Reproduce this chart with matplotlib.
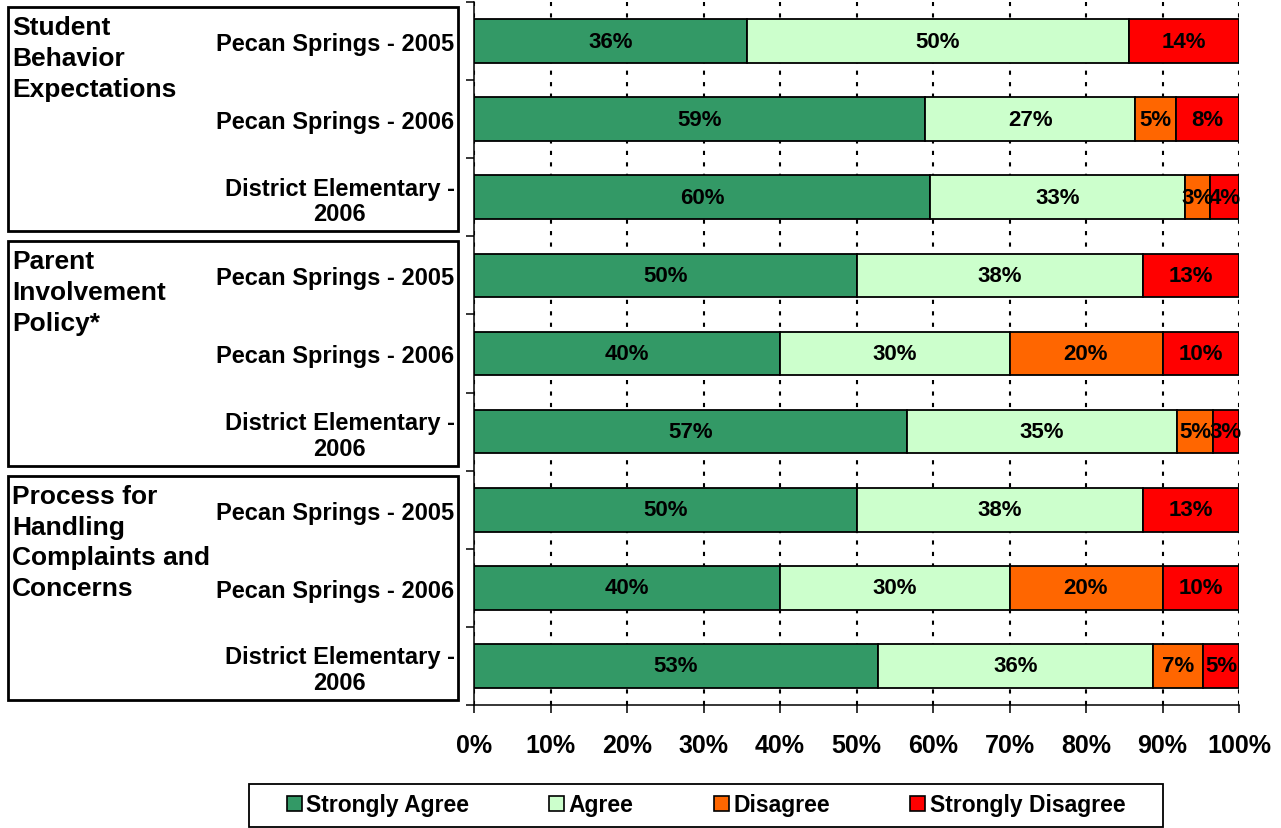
import matplotlib
matplotlib.use("Agg")
import matplotlib.pyplot as plt
from matplotlib.patches import Rectangle, Patch
import numpy as np

# ---------------- data ----------------
groups = ["Student\nBehavior\nExpectations",
          "Parent\nInvolvement\nPolicy*",
          "Process for\nHandling\nComplaints and\nConcerns"]
schools = ["Pecan Springs - 2005", "Pecan Springs - 2006", "District Elementary -\n2006"]
row_labels = schools * 3

series_names = ["Strongly Agree", "Agree", "Disagree", "Strongly Disagree"]
strongly_agree    = [35.7, 59.0, 59.6, 50.0, 40.0, 56.6, 50.0, 40.0, 52.8]
agree             = [49.9, 27.4, 33.4, 37.5, 30.0, 35.3, 37.5, 30.0, 36.0]
disagree          = [0.0,   5.4,  3.2,  0.0, 20.0,  4.7,  0.0, 20.0,  6.5]
strongly_disagree = [14.4,  8.2,  3.8, 12.5, 10.0,  3.4, 12.5, 10.0,  4.7]
colors = ["#339966", "#CCFFCC", "#FF6600", "#FF0000"]
x_ticks = list(range(0, 101, 10))
x_tick_labels = [f"{t}%" for t in x_ticks]

# ---------------- style ----------------
plt.rcParams["font.family"] = ["Liberation Sans", "DejaVu Sans"]
plt.rcParams["font.weight"] = "bold"

W, H = 1281, 829
fig = plt.figure(figsize=(W / 100, H / 100), dpi=100)
fig.patch.set_facecolor("white")

def fx(px):
    return px / W

def fy(py):
    return 1 - py / H

ax = fig.add_axes([fx(474), fy(706), fx(1239) - fx(474), fy(3) - fy(706)])

n = len(row_labels)
ypos = np.arange(n) + 0.5
left = np.zeros(n)
for vals, col, name in zip([strongly_agree, agree, disagree, strongly_disagree], colors, series_names):
    vals = np.array(vals)
    ax.barh(ypos, vals, left=left, height=0.56, color=col, edgecolor="black",
            linewidth=1.3, label=name, zorder=3)
    for yc, l, v in zip(ypos, left, vals):
        if v > 0:
            ax.text(l + v / 2, yc, f"{int(v + 0.5)}%", ha="center", va="center",
                    fontsize=16, fontweight="bold", color="black", zorder=4)
    left = left + vals

ax.set_xlim(0, 100)
ax.set_ylim(n, 0)

# x axis
ax.set_xticks(x_ticks)
ax.set_xticklabels(x_tick_labels, fontsize=18, fontweight="bold")
ax.tick_params(axis="x", direction="out", length=6, width=1.1, pad=14, color="black")

# y axis: boundaries as minor ticks, labels at centers
ax.set_yticks(np.arange(n + 1), minor=True)
ax.set_yticks(ypos)
ax.set_yticklabels(row_labels, fontsize=17, fontweight="bold", linespacing=1.15)
for lab in ax.get_yticklabels():
    lab.set_multialignment("center")
ax.tick_params(axis="y", which="major", length=0, pad=14)
ax.tick_params(axis="y", which="minor", direction="out", length=6, width=1.1, color="black")

for s in ["top", "right"]:
    ax.spines[s].set_visible(False)
for s in ["left", "bottom"]:
    ax.spines[s].set_linewidth(1.1)
    ax.spines[s].set_color("black")

ax.xaxis.grid(True, linestyle=(0, (2, 3.5)), color="black", linewidth=1.5, zorder=0)
ax.set_axisbelow(True)

# group boxes and labels
fig.canvas.draw()
inv = fig.transFigure.inverted()
for g, gname in enumerate(groups):
    top_disp = ax.transData.transform((0, 3 * g))[1]
    bot_disp = ax.transData.transform((0, 3 * g + 3))[1]
    top_f = inv.transform((0, top_disp))[1] - 5 / H
    bot_f = inv.transform((0, bot_disp))[1] + 5 / H
    rect = Rectangle((fx(8), bot_f), fx(458) - fx(8), top_f - bot_f,
                     transform=fig.transFigure, fill=False, edgecolor="black",
                     linewidth=2.0, zorder=5)
    fig.patches.append(rect)
    fig.text(fx(12), top_f - 8 / H, gname, ha="left", va="top", fontsize=19,
             fontweight="bold", linespacing=1.36)

# legend (content centred, frame drawn as a rectangle)
handles = [Patch(facecolor=c, edgecolor="black", linewidth=1.2) for c in colors]
leg = fig.legend(handles, series_names, loc="center", bbox_to_anchor=(fx(706), fy(806)),
                 ncol=4, frameon=False,
                 fontsize=16.5, handlelength=0.65, handleheight=0.65, handletextpad=0.2,
                 columnspacing=3.5, borderpad=0.4, borderaxespad=0)
for t in leg.get_texts():
    t.set_fontweight("bold")
frame = Rectangle((fx(249), fy(828)), fx(1163) - fx(249), fy(785) - fy(828),
                  transform=fig.transFigure, fill=False, edgecolor="black", linewidth=1.3)
fig.patches.append(frame)

fig.savefig("out.png", dpi=100)
